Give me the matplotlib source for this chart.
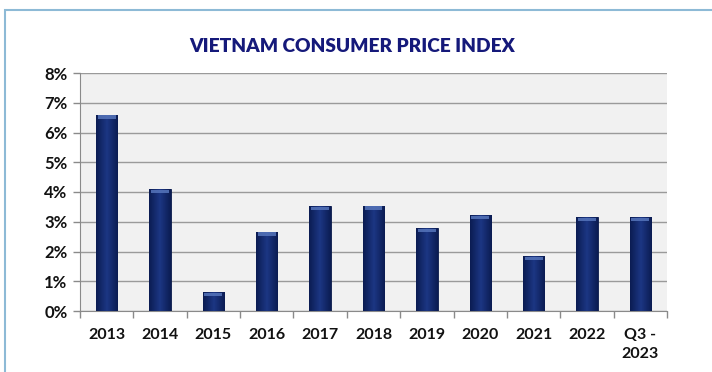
import matplotlib
matplotlib.use("Agg")
import matplotlib.pyplot as plt
import numpy as np
from matplotlib.patches import Rectangle
from matplotlib.ticker import FixedLocator

categories = ["2013", "2014", "2015", "2016", "2017", "2018", "2019", "2020", "2021", "2022", "Q3 -\n2023"]
cpi = [6.6, 4.09, 0.63, 2.66, 3.53, 3.54, 2.79, 3.23, 1.84, 3.15, 3.16]
yticks = [0, 1, 2, 3, 4, 5, 6, 7, 8]
ytick_labels = ["0%", "1%", "2%", "3%", "4%", "5%", "6%", "7%", "8%"]
title = "VIETNAM CONSUMER PRICE INDEX"

plt.rcParams['font.family'] = ['Lato', 'DejaVu Sans']

fig = plt.figure(figsize=(7.12, 3.72), dpi=100)
fig.patch.set_facecolor("white")

# outer border (light blue)
border = Rectangle((5/712, -0.05), 1.0, 1 - 10/372 + 0.05, transform=fig.transFigure,
                   fill=False, edgecolor="#8dbad6", linewidth=1.5)
fig.add_artist(border)

ax = fig.add_axes([80/712, 1 - 311/372, (667-80)/712, (311-73)/372])
ax.set_facecolor("#f1f1f1")
x = np.arange(len(categories))
bars = ax.bar(x, cpi, width=0.4, color="#112a6b", edgecolor="#0a1a4a", linewidth=0.6, zorder=3)

# horizontal gradient for bars
grad = np.linspace(0, 1, 64)
grad = 1 - np.abs(grad - 0.5) * 2
cmap = matplotlib.colors.LinearSegmentedColormap.from_list("g", ["#0b1c52", "#1c3683"])
for b in bars:
    bx, by = b.get_x(), b.get_y()
    w, h = b.get_width(), b.get_height()
    im = ax.imshow(grad[None, :], cmap=cmap, aspect="auto",
                   extent=[bx, bx + w, by, by + h], zorder=3.5, interpolation="bilinear")
    im.set_clip_path(b)
    # top highlight cap
    ax.add_patch(Rectangle((bx + w*0.08, by + h - 0.13), w*0.84, 0.11,
                           facecolor="#5675bb", edgecolor="none", alpha=0.85, zorder=4))

ax.set_xlim(-0.5, len(categories) - 0.5)
ax.set_ylim(0, 8)
ax.set_yticks(yticks)
ax.set_yticklabels(ytick_labels)
ax.yaxis.grid(True, color="#9a9a9a", linewidth=1.0, zorder=1)
ax.set_axisbelow(True)

ax.set_xticks(x)
ax.set_xticklabels(categories, va="top", linespacing=1.45)
ax.xaxis.set_minor_locator(FixedLocator(np.arange(-0.5, len(categories), 1.0)))
ax.tick_params(axis="x", which="major", length=0, pad=12)
ax.tick_params(axis="x", which="minor", length=5, color="#8a8a8a", width=1)
ax.tick_params(axis="y", length=5, color="#8a8a8a", width=1, pad=4)

for lab in ax.get_xticklabels():
    lab.set_fontweight("bold")
    lab.set_fontsize(11.5)
    lab.set_color("#111111")
for lab in ax.get_yticklabels():
    lab.set_fontweight("bold")
    lab.set_fontsize(12)
    lab.set_color("#111111")

for s in ["top", "right"]:
    ax.spines[s].set_visible(False)
ax.spines["left"].set_color("#8a8a8a")
ax.spines["bottom"].set_color("#8a8a8a")

fig.text(352/712, 1 - 46/372, title, ha="center", va="center",
         fontsize=13.8, fontweight="heavy", color="#15197a")

fig.savefig("out.png", dpi=100)
